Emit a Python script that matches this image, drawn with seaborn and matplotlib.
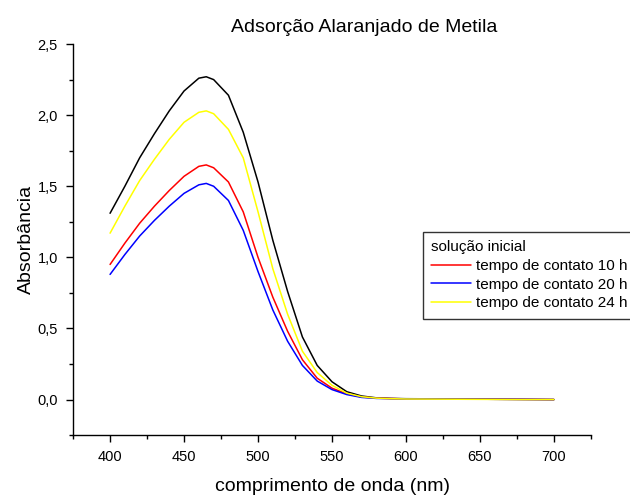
import seaborn as sns
import pandas as pd
import numpy as np
import matplotlib.pyplot as plt
from matplotlib.ticker import MultipleLocator, FuncFormatter

# comprimentos de onda (nm)
comprimento = [400, 410, 420, 430, 440, 450, 460, 465, 470, 480, 490, 500, 510, 520,
               530, 540, 550, 560, 570, 580, 590, 600, 620, 640, 660, 680, 700]

abs_inicial = [1.31, 1.50, 1.70, 1.87, 2.03, 2.17, 2.26, 2.27, 2.25, 2.14, 1.88, 1.53, 1.12, 0.76,
               0.44, 0.24, 0.125, 0.055, 0.025, 0.012, 0.008, 0.006, 0.005, 0.003, 0.002, 0.001, 0.0]
abs_10h = [0.95, 1.10, 1.24, 1.36, 1.47, 1.57, 1.64, 1.65, 1.63, 1.53, 1.32, 1.00, 0.72, 0.48,
           0.28, 0.15, 0.08, 0.04, 0.018, 0.010, 0.007, 0.005, 0.004, 0.003, 0.002, 0.001, 0.0]
abs_20h = [0.88, 1.02, 1.15, 1.26, 1.36, 1.45, 1.51, 1.52, 1.50, 1.40, 1.19, 0.90, 0.63, 0.41,
           0.24, 0.13, 0.07, 0.035, 0.015, 0.008, 0.006, 0.005, 0.004, 0.003, 0.002, 0.001, 0.0]
abs_24h = [1.17, 1.36, 1.54, 1.69, 1.83, 1.95, 2.02, 2.03, 2.01, 1.90, 1.70, 1.32, 0.92, 0.60,
           0.34, 0.19, 0.10, 0.045, 0.020, 0.010, 0.006, 0.004, 0.003, 0.002, 0.001, 0.0, 0.0]

series = ["solução inicial", "tempo de contato 10 h", "tempo de contato 20 h", "tempo de contato 24 h"]
cores = {"solução inicial": "black", "tempo de contato 10 h": "#ff0000",
         "tempo de contato 20 h": "#0000ff", "tempo de contato 24 h": "#ffff00"}

df = pd.concat([
    pd.DataFrame({"comprimento": comprimento, "abs": vals, "serie": nome})
    for nome, vals in zip(series, [abs_inicial, abs_10h, abs_20h, abs_24h])
])

sns.set_style("ticks")
plt.rcParams['font.family'] = ['Liberation Sans', 'DejaVu Sans']
plt.rcParams['text.color'] = 'black'
plt.rcParams['axes.labelcolor'] = 'black'
plt.rcParams['xtick.color'] = 'black'
plt.rcParams['ytick.color'] = 'black'

fig = plt.figure(figsize=(6.3, 4.95), dpi=100)
ax = fig.add_axes([0.116, 0.121, 0.822, 0.790])

sns.lineplot(data=df, x="comprimento", y="abs", hue="serie", palette=cores,
             ax=ax, linewidth=1.1, legend=False, sort=False)

ax.set_xlim(375, 725)
ax.set_ylim(-0.25, 2.5)
ax.xaxis.set_major_locator(MultipleLocator(50))
ax.xaxis.set_minor_locator(MultipleLocator(25))
ax.yaxis.set_major_locator(MultipleLocator(0.5))
ax.yaxis.set_minor_locator(MultipleLocator(0.25))
ax.yaxis.set_major_formatter(FuncFormatter(lambda v, p: f"{v:.1f}".replace(".", ",")))
ax.tick_params(which="major", length=5, width=1, labelsize=10.5, direction="out", pad=6)
ax.tick_params(which="minor", length=3, width=1, direction="out")
sns.despine(ax=ax)
for s in ["left", "bottom"]:
    ax.spines[s].set_linewidth(1)
    ax.spines[s].set_color("black")

ax.set_xlabel("comprimento de onda (nm)", fontsize=14, labelpad=10)
ax.set_ylabel("Absorbância", fontsize=14, labelpad=2)
fig.text(364 / 630, 1 - 28 / 495, "Adsorção Alaranjado de Metila", ha="center", va="center", fontsize=14)

handles = [plt.Line2D([], [], color=cores[n], linewidth=1.1) for n in series[1:]]
leg = fig.legend(handles, series[1:], title="solução inicial", loc="upper left",
                 bbox_to_anchor=(423 / 630, 1 - 232 / 495), fontsize=11, title_fontsize=11,
                 frameon=True, fancybox=False, handlelength=2.6, handletextpad=0.35,
                 labelspacing=0.3, borderpad=0.55, borderaxespad=0)
leg._legend_box.align = "left"
leg.get_frame().set_edgecolor("black")
leg.get_frame().set_linewidth(1)

fig.savefig("out.png", dpi=100)
